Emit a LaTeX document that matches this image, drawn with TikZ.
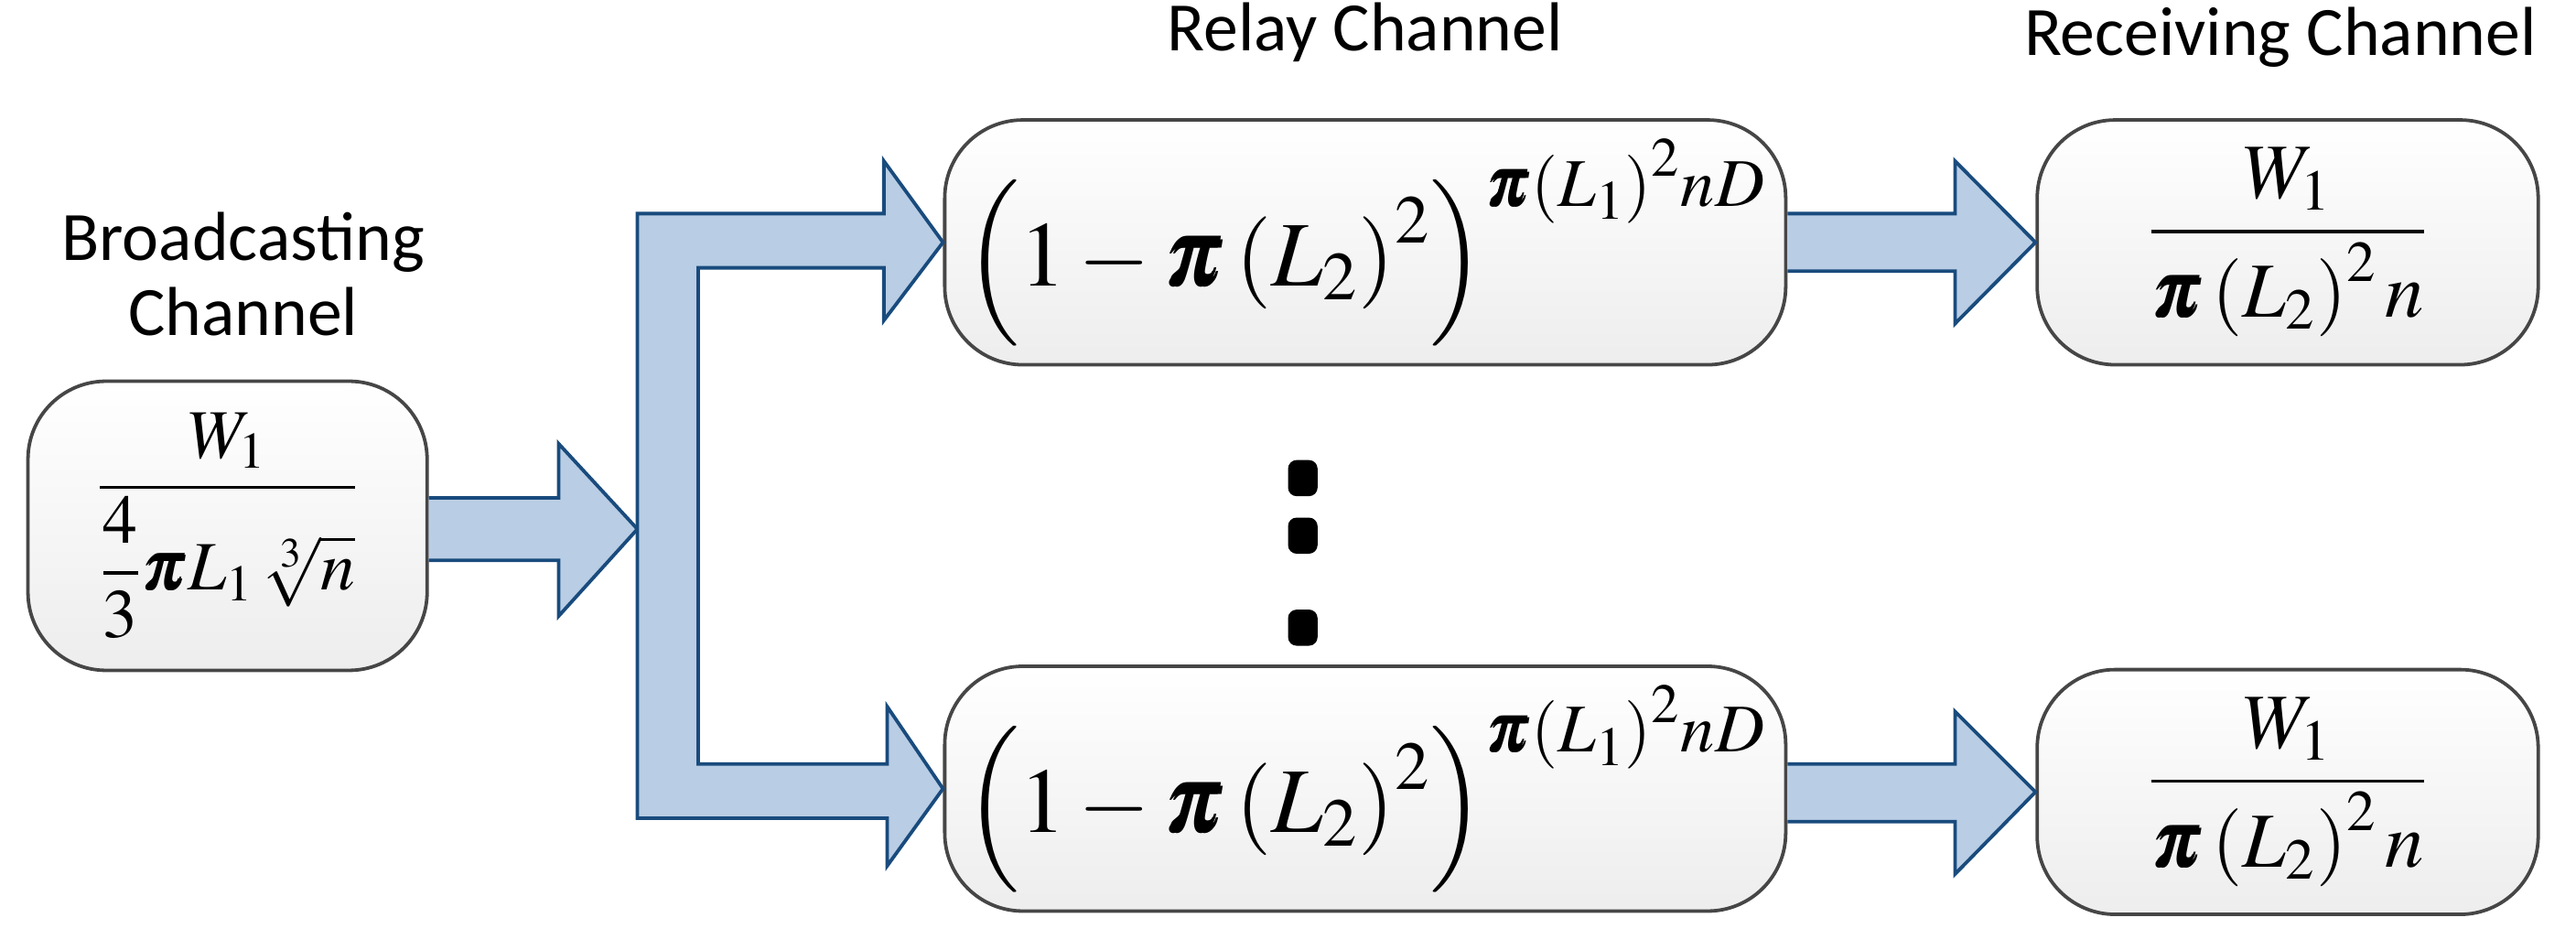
\documentclass[tikz,border=0pt]{standalone}
\usepackage{amsmath}
\usepackage{mathptmx}
\usepackage{bm}
\usepackage{fontspec}
\setmainfont{Carlito}
\usetikzlibrary{shapes.geometric}
\definecolor{arrfill}{RGB}{185,205,228}
\definecolor{arrdraw}{RGB}{25,75,125}
\definecolor{boxdraw}{RGB}{70,70,70}
\tikzset{
  box/.style={draw=boxdraw,line width=1.2pt,rounded corners=0.95cm,top color=white,bottom color=black!7,inner sep=0pt},
  arr/.style={fill=arrfill,draw=arrdraw,line width=1.2pt,line join=miter},
  ttl/.style={font=\fontsize{24}{28}\selectfont,align=center},
  dot/.style={fill=black,rounded corners=3pt,minimum width=0.36cm,minimum height=0.44cm,inner sep=0pt}
}
\begin{document}
\begin{tikzpicture}[x=0.02cm,y=-0.02cm]
\useasboundingbox (0,0) rectangle (1568,578);
% boxes
\node[box,minimum width=4.86cm,minimum height=3.52cm] (bc) at (138.5,320) {\fontsize{24}{28}\selectfont$\dfrac{W_1}{\dfrac{4}{3}\bm{\pi} L_1\,\sqrt[3]{n}}$};
\node[box,minimum width=10.24cm,minimum height=2.98cm] (r1) at (831,147.5) {\fontsize{32}{38}\selectfont$\left(1-\bm{\pi}\left(L_2\right)^2\right)^{\bm{\pi}\left(L_1\right)^2 nD}$};
\node[box,minimum width=10.24cm,minimum height=2.98cm] (r2) at (831,480) {\fontsize{32}{38}\selectfont$\left(1-\bm{\pi}\left(L_2\right)^2\right)^{\bm{\pi}\left(L_1\right)^2 nD}$};
\node[box,minimum width=6.1cm,minimum height=2.98cm] (q1) at (1392.5,147.5) {\fontsize{27}{32}\selectfont$\dfrac{W_1}{\bm{\pi}\left(L_2\right)^2 n}$};
\node[box,minimum width=6.1cm,minimum height=2.98cm] (q2) at (1392.5,482) {\fontsize{27}{32}\selectfont$\dfrac{W_1}{\bm{\pi}\left(L_2\right)^2 n}$};
% titles
\node[ttl] (tb) at (148,167) {Broadcasting\\[-2pt]Channel};
\node[ttl,anchor=south] (tr) at (831,44) {Relay Channel};
\node[ttl,anchor=south] (tq) at (1388,47) {Receiving Channel};
% dots
\node[dot] (d1) at (793,291) {};
\node[dot] (d2) at (793,326) {};
\node[dot] (d3) at (793,382) {};
% arrows
\draw[arr] (bc.east |- 0,303) -- (340,303) -- (340,270) -- (388,322) -- (340,375) -- (340,341) -- (bc.east |- 0,341);
\draw[arr] (388,130) -- (538,130) -- (538,98) -- (r1.west) -- (538,195) -- (538,163) -- (425,163) -- (425,465) -- (540,465) -- (540,430) -- (r2.west) -- (540,527) -- (540,498) -- (388,498) -- cycle;
\draw[arr] (r1.east |- 0,130) -- (1190,130) -- (1190,98) -- (q1.west) -- (1190,197) -- (1190,165) -- (r1.east |- 0,165);
\draw[arr] (r2.east |- 0,465) -- (1190,465) -- (1190,433) -- (q2.west) -- (1190,532) -- (1190,500) -- (r2.east |- 0,500);
\end{tikzpicture}
\end{document}
